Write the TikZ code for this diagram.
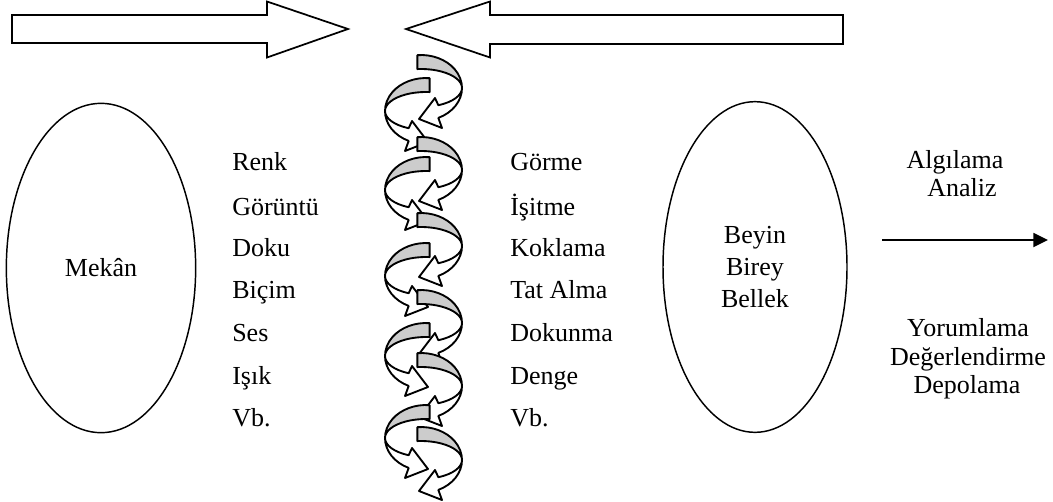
\documentclass[tikz,border=0pt]{standalone}
\usepackage{fontspec}
\setmainfont{Liberation Serif}
\usetikzlibrary{shapes.geometric, arrows.meta}

\begin{document}
\begin{tikzpicture}
        [x=0.75pt, y=-0.75pt,
        font=\fontsize{19.5}{24}\selectfont,
        oval/.style={ellipse, draw=black, line width=1.1pt, align=center, inner sep=0pt},
        madde/.style={anchor=base west, inner sep=0pt},
        yazi/.style={anchor=base, inner sep=0pt},
        blok/.style={draw=black, line width=1.3pt, fill=white, line join=miter},
        serit/.style={draw=black, line width=1.4pt, line join=round},
        okcizgi/.style={-{Triangle[length=11pt, width=10.5pt]}, line width=1.4pt},
        rcurl/.pic={
          \filldraw[serit, fill=black!20] (265:41 and 33)
             arc[start angle=265, end angle=360, x radius=41, y radius=33]
             arc[start angle=360, end angle=265, x radius=41, y radius=19] -- cycle;
          \filldraw[serit, fill=white] (0:41 and 33)
             arc[start angle=0, end angle=65, x radius=41, y radius=33]
             -- (21,40) -- (-2,31) -- (14,10) -- (65:41 and 19)
             arc[start angle=65, end angle=0, x radius=41, y radius=19] -- cycle;
        }]
        \useasboundingbox (0,0) rectangle (1053,501);

        % top block arrows
        \draw[blok] (12,15) -- (267,15) -- (267,1.5) -- (348,29) -- (267,57.5)
           -- (267,43) -- (12,43) -- cycle;
        \draw[blok] (843,15) -- (490,15) -- (490,1.5) -- (406,29) -- (490,57.5)
           -- (490,44) -- (843,44) -- cycle;

        \node (mekan) [oval, minimum width=142pt, minimum height=247pt] at (101,268) {Mekân};
        \node (beyin) [oval, minimum width=138pt, minimum height=248pt] at (755,267)
           {Beyin\\Birey\\Bellek};

        \node (renk) [madde] at (232,170) {Renk};
        \node (goruntu) [madde] at (232,215) {Görüntü};
        \node (doku) [madde] at (232,256) {Doku};
        \node (bicim) [madde] at (232,298) {Biçim};
        \node (ses) [madde] at (232,341) {Ses};
        \node (isik) [madde] at (232,384) {Işık};
        \node (vb1) [madde] at (232,426) {Vb.};

        \node (gorme) [madde] at (510,170) {Görme};
        \node (isitme) [madde] at (510,215) {İşitme};
        \node (koklama) [madde] at (510,256) {Koklama};
        \node (tat) [madde] at (510,298) {Tat Alma};
        \node (dokunma) [madde] at (510,341) {Dokunma};
        \node (denge) [madde] at (510,384) {Denge};
        \node (vb2) [madde] at (510,426) {Vb.};

        % spiral
        \pic at (421,88) {rcurl};
        \pic[xscale=-1] at (426,111) {rcurl};
        \pic at (421,170) {rcurl};
        \pic[xscale=-1] at (426,190) {rcurl};
        \pic at (421,246) {rcurl};
        \pic[xscale=-1] at (426,276) {rcurl};
        \pic at (421,323) {rcurl};
        \pic[xscale=-1] at (426,356) {rcurl};
        \pic at (421,386) {rcurl};
        \pic[xscale=-1] at (426,438) {rcurl};
        \pic at (421,460) {rcurl};

        \node (algilama) [yazi] at (955,168) {Algılama};
        \node (analiz) [yazi] at (962,196) {Analiz};
        \coordinate (okbas) at (882,240);
        \coordinate (okuc) at (1048,240);
        \draw[okcizgi] (okbas) -- (okuc);
        \node (yorumlama) [yazi] at (968,336) {Yorumlama};
        \node (degerlendirme) [yazi] at (968,365) {Değerlendirme};
        \node (depolama) [yazi] at (967,393) {Depolama};
\end{tikzpicture}
\end{document}
